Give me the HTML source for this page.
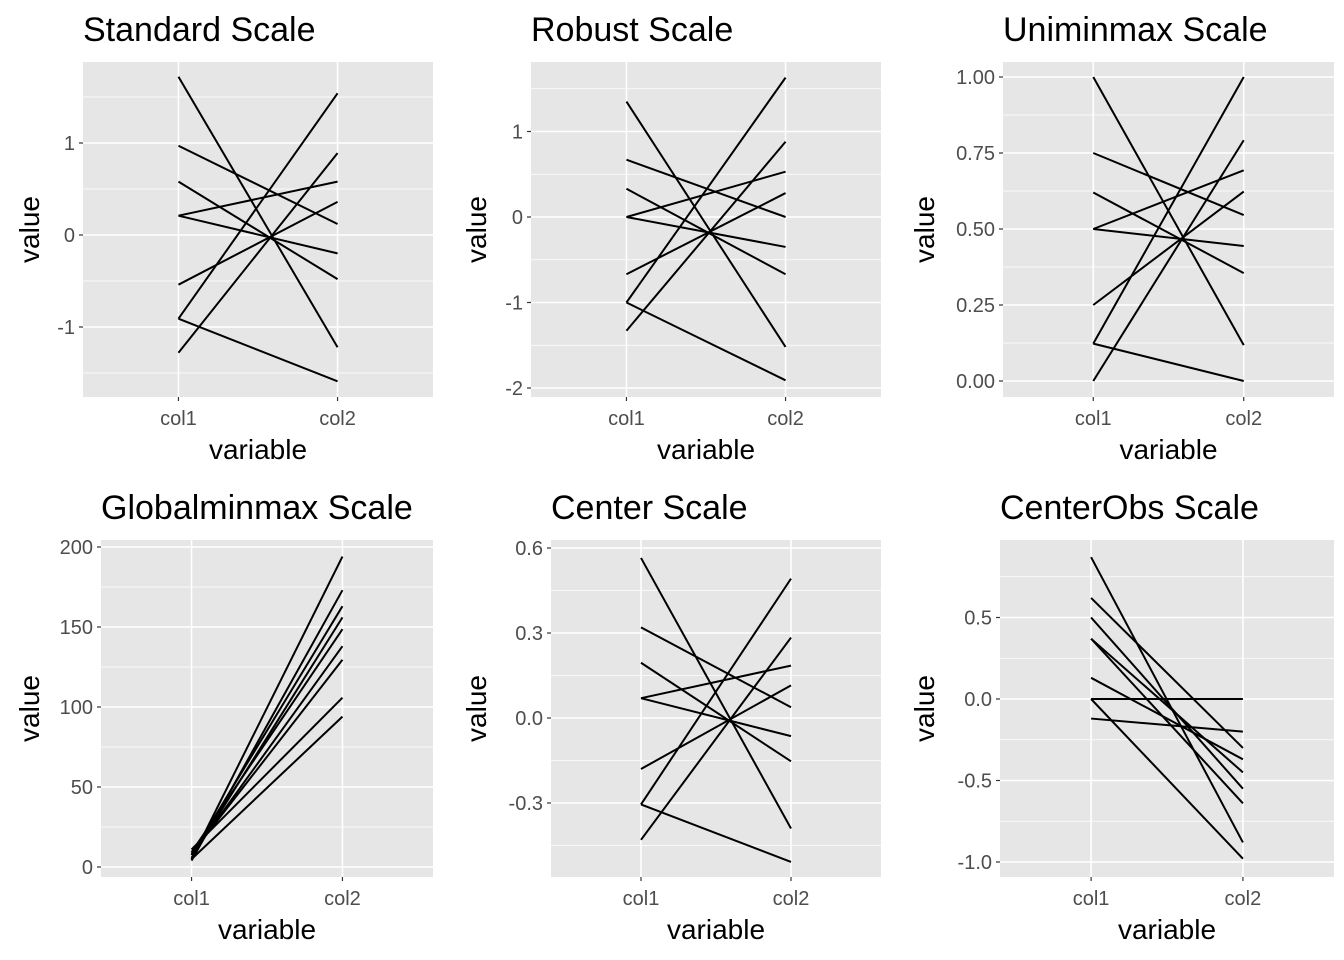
<!DOCTYPE html>
<html><head><meta charset="utf-8"><style>body{margin:0;background:#fff}svg{display:block}text{font-family:"Liberation Sans",sans-serif}</style></head>
<body>
<svg id="c" width="1344" height="960" xmlns="http://www.w3.org/2000/svg"></svg>
<script>
const categories = ["col1","col2"];
const stdCol1 = [1.72,0.97,0.58,0.21,0.21,-0.54,-0.91,-0.91,-1.28];
const stdCol2 = [-1.22,0.12,-0.48,0.58,-0.20,0.36,1.54,-1.59,0.89];
const robCol1 = [1.35,0.67,0.33,0,0,-0.67,-1,-1,-1.33];
const robCol2 = [-1.52,0,-0.67,0.53,-0.35,0.28,1.63,-1.91,0.88];
const uniCol1 = [1,0.75,0.62,0.5,0.5,0.25,0.123,0.123,0];
const uniCol2 = [0.118,0.546,0.355,0.693,0.444,0.623,1,0,0.792];
const gloCol1 = [11,9.25,8.3,7.5,7.5,5.75,4.9,4.9,4];
const gloCol2 = [105.8,148.6,129.5,163,138,156,194,94,173];
const cenCol1 = [0.565,0.32,0.195,0.07,0.07,-0.18,-0.305,-0.305,-0.43];
const cenCol2 = [-0.39,0.038,-0.153,0.185,-0.064,0.115,0.492,-0.508,0.284];
const obsCol1 = [0.87,0.62,0.50,0.37,0.37,0.13,0,0,-0.12];
const obsCol2 = [-0.88,-0.30,-0.55,-0.45,-0.64,-0.37,0,-0.98,-0.20];
const stdTicks=[-1,0,1], stdLabels=["-1","0","1"];
const robTicks=[-2,-1,0,1], robLabels=["-2","-1","0","1"];
const uniTicks=[0,0.25,0.5,0.75,1], uniLabels=["0.00","0.25","0.50","0.75","1.00"];
const gloTicks=[0,50,100,150,200], gloLabels=["0","50","100","150","200"];
const cenTicks=[-0.3,0,0.3,0.6], cenLabels=["-0.3","0.0","0.3","0.6"];
const obsTicks=[-1,-0.5,0,0.5], obsLabels=["-1.0","-0.5","0.0","0.5"];

const svg=document.getElementById('c');
const NS="http://www.w3.org/2000/svg";
function mk(tag,attrs,parent){const e=document.createElementNS(NS,tag);for(const k in attrs)e.setAttribute(k,attrs[k]);(parent||svg).appendChild(e);return e;}

function panel(cfg){
  const g=mk('g',{});
  
  
  const {x,y,w,h,zeroY,ppu}=cfg;
  const ys=v=>zeroY-v*ppu;
  const xs=i=>x+w*(0.6+i)/2.2;
  const bg=mk('rect',{x:x,y:y,width:w,height:h,fill:'#e6e6e6'},g);
  
  
  const t=cfg.ticks, step=t[1]-t[0];
  const minors=[t[0]-step/2];
  for(let i=0;i<t.length;i++)minors.push(t[i]+step/2);
  minors.forEach(v=>{const py=ys(v);if(py>y&&py<y+h){const l=mk('line',{x1:x,x2:x+w,y1:py,y2:py,stroke:'#fff','stroke-width':0.8},g);}});
  t.forEach((v,i)=>{const py=ys(v);
    const l=mk('line',{x1:x,x2:x+w,y1:py,y2:py,stroke:'#fff','stroke-width':1.6},g);
    
    mk('line',{x1:x-4,x2:x,y1:py,y2:py,stroke:'#333','stroke-width':1.2},g);
    const tx=mk('text',{x:x-8,y:py+7,'text-anchor':'end','font-size':20,fill:'#4d4d4d'},g);
    tx.textContent=cfg.labels[i];
    
  });
  categories.forEach((c,i)=>{const px=xs(i);
    const l=mk('line',{x1:px,x2:px,y1:y,y2:y+h,stroke:'#fff','stroke-width':1.6},g);
    
    mk('line',{x1:px,x2:px,y1:y+h,y2:y+h+4,stroke:'#333','stroke-width':1.2},g);
    const tx=mk('text',{x:px,y:y+h+28,'text-anchor':'middle','font-size':20,fill:'#4d4d4d'},g);
    tx.textContent=c;
    
  });
  cfg.c1.forEach((v,i)=>{
    const l=mk('line',{x1:xs(0),y1:ys(v),x2:xs(1),y2:ys(cfg.c2[i]),stroke:'#000','stroke-width':2},g);
    
  });
  const tt=mk('text',{x:x,y:y-21,'font-size':34,fill:'#000'},g);
  tt.textContent=cfg.title;
  const xl=mk('text',{x:x+w/2,y:y+h+62,'text-anchor':'middle','font-size':28,fill:'#000'},g);
  xl.textContent='variable';
  const yl=mk('text',{x:0,y:0,'text-anchor':'middle','font-size':28,fill:'#000',transform:`translate(${cfg.ylx},${y+h/2}) rotate(-90)`},g);
  yl.textContent='value';
}
panel({name:'standard',title:'Standard Scale',x:83,y:62,w:350,h:335,zeroY:235,ppu:92,ticks:stdTicks,labels:stdLabels,c1:stdCol1,c2:stdCol2,ylx:39});
panel({name:'robust',title:'Robust Scale',x:531,y:62,w:350,h:335,zeroY:217,ppu:85.5,ticks:robTicks,labels:robLabels,c1:robCol1,c2:robCol2,ylx:486});
panel({name:'uniminmax',title:'Uniminmax Scale',x:1003,y:62,w:331,h:335,zeroY:381,ppu:304,ticks:uniTicks,labels:uniLabels,c1:uniCol1,c2:uniCol2,ylx:934});
panel({name:'globalminmax',title:'Globalminmax Scale',x:101,y:540,w:332,h:337,zeroY:867,ppu:1.6,ticks:gloTicks,labels:gloLabels,c1:gloCol1,c2:gloCol2,ylx:39});
panel({name:'center',title:'Center Scale',x:551,y:540,w:330,h:337,zeroY:718,ppu:283.3,ticks:cenTicks,labels:cenLabels,c1:cenCol1,c2:cenCol2,ylx:486});
panel({name:'centerobs',title:'CenterObs Scale',x:1000,y:540,w:334,h:337,zeroY:699,ppu:163,ticks:obsTicks,labels:obsLabels,c1:obsCol1,c2:obsCol2,ylx:934});
</script>
</body></html>
